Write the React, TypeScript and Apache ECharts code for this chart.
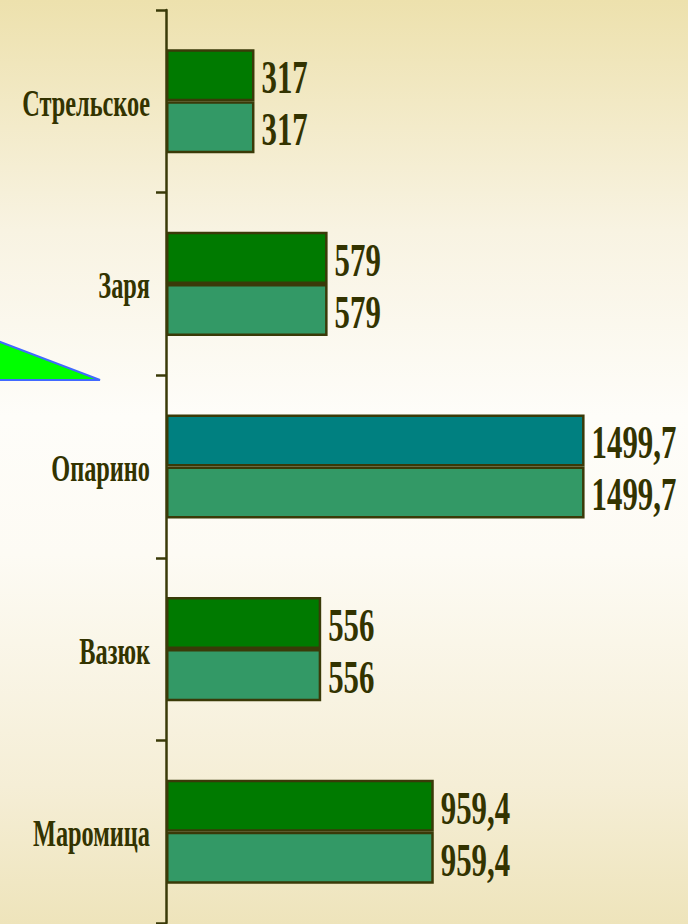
import React, { useEffect, useRef } from "react";
import * as echarts from "echarts";

const categories = ["Стрельское", "Заря", "Опарино", "Вазюк", "Маромица"];
const planValues = [317, 579, 1499.7, 556, 959.4];
const factValues = [317, 579, 1499.7, 556, 959.4];
const highlightCategory = "Опарино";

const GAP = 0.43;
const TEXT = "#333300";
const BORDER = "#3a3a08";
const FONT = "Liberation Serif";

const fmt = (v: number) => String(v).replace(".", ",");

export default function App() {
  const ref = useRef<HTMLDivElement>(null);
  useEffect(() => {
    if (!ref.current) return;
    const chart = echarts.init(ref.current, undefined, { renderer: "svg" });
    const labelData: number[][] = [];
    planValues.forEach((v, i) => labelData.push([v, i, 0]));
    factValues.forEach((v, i) => labelData.push([v, i, 1]));
    const catData = categories.map((_, i) => [0, i]);
    chart.setOption({
      animation: false,
      backgroundColor: "transparent",
      grid: { left: 166, top: 10, width: 501, height: 913 },
      xAxis: { type: "value", min: 0, max: 1795, show: false },
      yAxis: {
        type: "category",
        inverse: true,
        data: categories,
        axisLine: { show: true, lineStyle: { color: BORDER, width: 2.5 } },
        axisTick: { show: true, length: 10, lineStyle: { color: BORDER, width: 2.5 } },
        axisLabel: { show: false },
        splitLine: { show: false },
      },
      series: [
        {
          type: "bar",
          data: planValues.map((v, i) =>
            categories[i] === highlightCategory
              ? { value: v, itemStyle: { color: "#008080" } }
              : v
          ),
          barGap: "0%",
          barCategoryGap: GAP * 100 + "%",
          itemStyle: { color: "#007a00", borderColor: BORDER, borderWidth: 2.5 },
        },
        {
          type: "bar",
          data: factValues,
          barGap: "0%",
          barCategoryGap: GAP * 100 + "%",
          itemStyle: { color: "#339966", borderColor: BORDER, borderWidth: 2.5 },
        },
        {
          type: "custom",
          data: labelData,
          encode: { x: 0, y: 1 },
          clip: false,
          z: 10,
          renderItem: (params: any, api: any) => {
            const v = api.value(0);
            const idx = api.value(1);
            const slot = api.value(2);
            const p = api.coord([v, idx]);
            const band = api.size([0, 1])[1];
            const barH = (band * (1 - GAP)) / 2;
            const y = p[1] + (slot === 0 ? -barH / 2 : barH / 2) + 2;
            return {
              type: "text",
              x: p[0] + 7,
              y,
              scaleX: 0.67,
              style: {
                text: fmt(v),
                fill: TEXT,
                fontSize: 46,
                fontWeight: "bold",
                fontFamily: FONT,
                align: "left",
                verticalAlign: "middle",
              },
            };
          },
        },
        {
          type: "custom",
          data: catData,
          encode: { x: 0, y: 1 },
          clip: false,
          z: 10,
          renderItem: (params: any, api: any) => {
            const idx = api.value(1);
            const p = api.coord([0, idx]);
            return {
              type: "text",
              x: p[0] - 16,
              y: p[1] + 2,
              scaleX: 0.64,
              style: {
                text: categories[idx],
                fill: TEXT,
                fontSize: 38,
                fontWeight: "bold",
                fontFamily: FONT,
                align: "right",
                verticalAlign: "middle",
              },
            };
          },
        },
      ],
      graphic: [
        {
          type: "polygon",
          shape: { points: [[-10, 338], [100, 380], [-10, 380]] },
          style: { fill: "#00ff00", stroke: "#4169ff", lineWidth: 2 },
          z: 5,
        },
      ],
    });
    return () => chart.dispose();
  }, []);
  return (
    <div
      style={{
        position: "fixed",
        left: 0,
        top: 0,
        width: 688,
        height: 924,
        background:
          "linear-gradient(to bottom, #ede1ad 0%, #f8f3e2 25%, #fefdf9 45%, #fdfbf4 60%, #f5eed6 85%, #eee4bb 100%)",
      }}
    >
      <div ref={ref} style={{ width: 688, height: 924 }} />
    </div>
  );
}
